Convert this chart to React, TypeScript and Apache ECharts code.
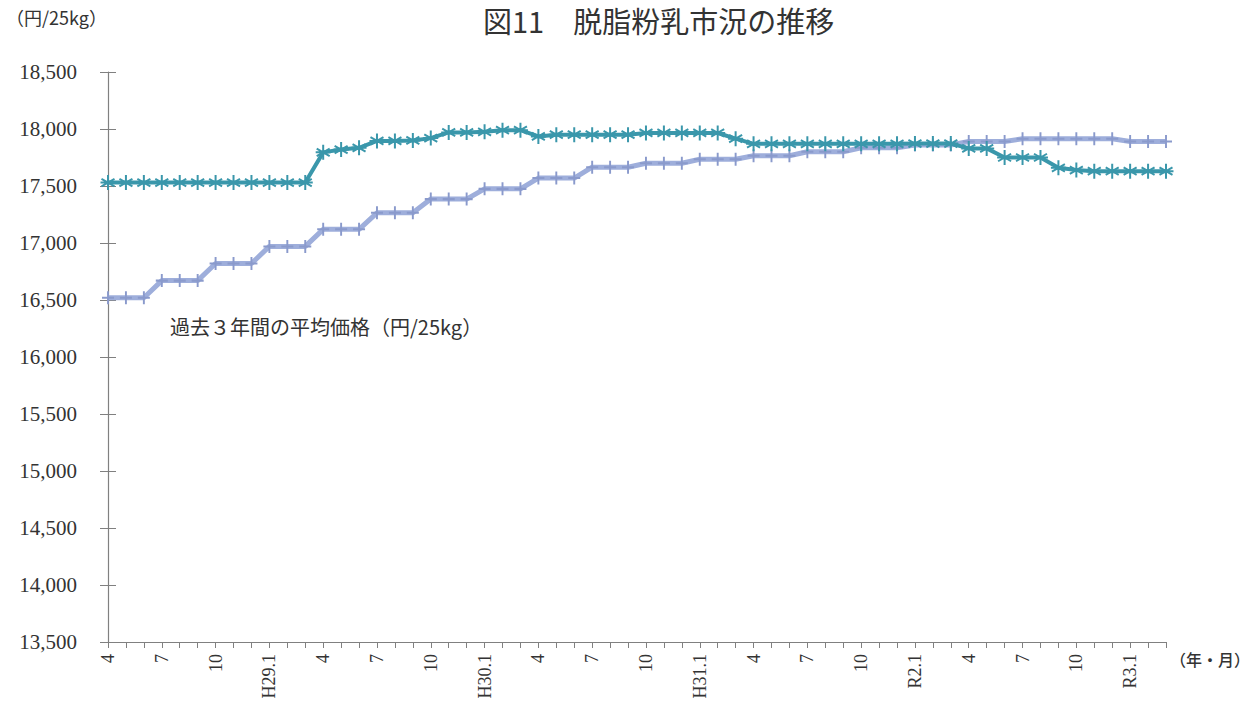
import React, { useEffect, useRef } from "react";
import * as echarts from "echarts";

const categories: string[] = [
  "4", "5", "6", "7", "8", "9", "10", "11", "12", "H29.1", "2", "3",
  "4", "5", "6", "7", "8", "9", "10", "11", "12", "H30.1", "2", "3",
  "4", "5", "6", "7", "8", "9", "10", "11", "12", "H31.1", "2", "3",
  "4", "5", "6", "7", "8", "9", "10", "11", "12", "R2.1", "2", "3",
  "4", "5", "6", "7", "8", "9", "10", "11", "12", "R3.1", "2", "3",
];

const marketPrice: number[] = [
  17530, 17530, 17530, 17530, 17530, 17530, 17530, 17530, 17530, 17530, 17530, 17530,
  17795, 17820, 17835, 17895, 17895, 17900, 17920, 17970, 17970, 17975, 17990, 17990,
  17935, 17950, 17950, 17950, 17950, 17950, 17965, 17965, 17965, 17965, 17965, 17915,
  17870, 17870, 17870, 17870, 17870, 17870, 17870, 17870, 17870, 17872, 17872, 17872,
  17830, 17830, 17750, 17750, 17750, 17660, 17640, 17630, 17630, 17630, 17630, 17630,
];

const avg3Years: number[] = [
  16520, 16520, 16520, 16670, 16670, 16670, 16820, 16820, 16820, 16970, 16970, 16970,
  17120, 17120, 17120, 17265, 17265, 17265, 17385, 17385, 17385, 17475, 17475, 17475,
  17570, 17570, 17570, 17665, 17665, 17665, 17700, 17700, 17700, 17735, 17735, 17735,
  17765, 17765, 17765, 17800, 17800, 17800, 17835, 17835, 17835, 17860, 17860, 17860,
  17890, 17890, 17890, 17915, 17915, 17915, 17915, 17915, 17915, 17890, 17890, 17890,
];

const yMin = 13500;
const yMax = 18500;
const yStep = 500;

const titleText = "図11　脱脂粉乳市況の推移";
const unitText = "（円/25kg）";
const avgLabel = "過去３年間の平均価格（円/25kg）";
const xUnitText = "（年・月）";

const SERIF = "'Liberation Serif', 'Noto Sans CJK JP', serif";
const CJK = "'Noto Sans CJK JP', sans-serif";

const TEAL = "#3a97ab";
const LAVENDER = "#9eaedb";
const LAVENDER_MARK = "#8a9acc";

export default function App() {
  const ref = useRef<HTMLDivElement>(null);
  useEffect(() => {
    document.body.style.margin = "0";
    if (!ref.current) return;
    const chart = echarts.init(ref.current, null, { renderer: "svg" });
    const option: any = {
      animation: false,
      backgroundColor: "#ffffff",
      grid: { left: 108, right: 87, top: 72, bottom: 80, containLabel: false },
      title: {
        text: titleText,
        left: 478,
        top: 0,
        textStyle: { fontFamily: CJK, fontSize: 29, fontWeight: "normal", color: "#333" },
      },
      xAxis: {
        type: "category",
        boundaryGap: false,
        data: categories,
        axisLine: { lineStyle: { color: "#808080", width: 1.2 } },
        axisTick: { interval: 0, length: 6, lineStyle: { color: "#808080" } },
        axisLabel: {
          interval: 2,
          rotate: 90,
          margin: 12,
          fontFamily: SERIF,
          fontSize: 18,
          color: "#333",
        },
        splitLine: { show: false },
      },
      yAxis: [
        {
          type: "value",
          min: yMin,
          max: yMax,
          interval: yStep,
          axisLine: { show: true, lineStyle: { color: "#808080", width: 1.2 } },
          axisTick: { show: true, length: 8, lineStyle: { color: "#808080" } },
          axisLabel: {
            margin: 31,
            fontFamily: SERIF,
            fontSize: 21,
            color: "#333",
            formatter: (v: number) => v.toLocaleString("en-US"),
          },
          splitLine: { show: false },
        },
        {
          type: "value",
          position: "left",
          min: yMin,
          max: yMax,
          interval: yStep,
          axisLine: { show: false },
          axisTick: { show: true, inside: true, length: 8, lineStyle: { color: "#808080" } },
          axisLabel: { show: false },
          splitLine: { show: false },
        },
      ],
      graphic: [
        {
          type: "text",
          left: 6,
          top: 8,
          style: { text: unitText, fontFamily: CJK, fontSize: 18, fill: "#333" },
        },
        {
          type: "text",
          left: 170,
          top: 316,
          style: { text: avgLabel, fontFamily: CJK, fontSize: 20, fill: "#333" },
        },
        {
          type: "text",
          left: 1170,
          top: 651,
          style: { text: xUnitText, fontFamily: CJK, fontSize: 16, fontWeight: 500, fill: "#333" },
        },
      ],
      series: [
        {
          type: "line",
          data: avg3Years,
          yAxisIndex: 0,
          showAllSymbol: true,
          lineStyle: { color: LAVENDER, width: 5 },
          symbol: "path://M0,-6 L0,6 M-6,0 L6,0",
          symbolSize: [12, 13],
          itemStyle: { color: LAVENDER, borderColor: LAVENDER_MARK, borderWidth: 2 },
          z: 2,
        },
        {
          type: "line",
          data: marketPrice,
          yAxisIndex: 0,
          showAllSymbol: true,
          lineStyle: { color: TEAL, width: 4 },
          symbol: "path://M0,-6 L0,6 M-5.2,-3 L5.2,3 M-5.2,3 L5.2,-3 M-6,0 L6,0",
          symbolSize: [15, 15],
          itemStyle: { color: TEAL, borderColor: TEAL, borderWidth: 2 },
          z: 3,
        },
      ],
    };
    chart.setOption(option);
    return () => chart.dispose();
  }, []);
  return (
    <div
      ref={ref}
      style={{ position: "absolute", left: 0, top: 0, width: 1253, height: 722 }}
    />
  );
}
